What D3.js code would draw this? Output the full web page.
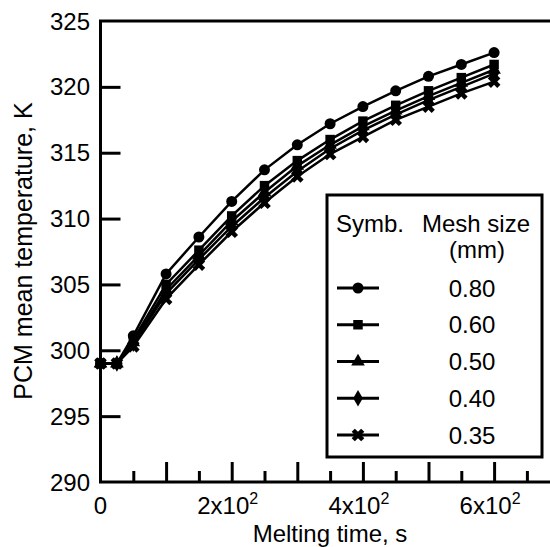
<!DOCTYPE html>
<html>
<head>
<meta charset="utf-8">
<script src="https://cdn.jsdelivr.net/npm/d3@7"></script>
<style>
  html, body { margin: 0; padding: 0; background: #fff; }
  svg { display: block; }
  text { font-family: "Liberation Sans", Arial, sans-serif; fill: #000; }
</style>
</head>
<body>
<div id="chart"></div>
<script>
// ---- data ----
const times = [0, 25, 50, 100, 150, 200, 250, 300, 350, 400, 450, 500, 550, 600];
const meshSizes = ["0.80", "0.60", "0.50", "0.40", "0.35"];
const t080 = [299, 299, 301.1, 305.8, 308.6, 311.3, 313.7, 315.6, 317.2, 318.5, 319.7, 320.8, 321.7, 322.6];
const t060 = [299, 299, 300.8, 305.0, 307.6, 310.2, 312.5, 314.4, 316.0, 317.4, 318.6, 319.7, 320.7, 321.7];
const t050 = [299, 299, 300.6, 304.6, 307.2, 309.8, 312.0, 314.0, 315.6, 317.0, 318.2, 319.3, 320.3, 321.3];
const t040 = [299, 299, 300.5, 304.3, 306.9, 309.4, 311.6, 313.6, 315.3, 316.7, 317.9, 319.0, 320.0, 321.0];
const t035 = [299, 299, 300.3, 303.9, 306.5, 309.0, 311.2, 313.2, 314.9, 316.2, 317.5, 318.5, 319.5, 320.4];
const yTicks = [295, 300, 305, 310, 315, 320];
const yLabels = [290, 295, 300, 305, 310, 315, 320, 325];
const xMajor = [100, 200, 300, 400, 500, 600];
const xMinor = [50, 150, 250, 350, 450, 550, 650];
const xLabelVals = [0, 200, 400, 600];

const series = [
  { name: meshSizes[0], values: t080, sym: d3.symbolCircle, size: 95, rot: 0 },
  { name: meshSizes[1], values: t060, sym: d3.symbolSquare, size: 90, rot: 0 },
  { name: meshSizes[2], values: t050, sym: d3.symbolTriangle, size: 80, rot: 0 },
  { name: meshSizes[3], values: t040, sym: d3.symbolDiamond, size: 80, rot: 0 },
  { name: meshSizes[4], values: t035, sym: d3.symbolCross, size: 100, rot: 45 }
];

const W = 550, H = 547;
const svg = d3.select("#chart").append("svg").attr("width", W).attr("height", H);

const x = d3.scaleLinear().domain([0, 700]).range([100.5, 559.7]);
const y = d3.scaleLinear().domain([290, 325]).range([482, 21]);

// frame
svg.append("rect")
  .attr("x", x(0)).attr("y", y(325))
  .attr("width", x(700) - x(0)).attr("height", y(290) - y(325))
  .attr("fill", "none").attr("stroke", "#000").attr("stroke-width", 3);

// x ticks (inward)
const gx = svg.append("g").attr("transform", `translate(0,${y(290)})`);
gx.call(d3.axisBottom(x).tickValues(xMajor).tickSize(-20).tickFormat(""));
const gxm = svg.append("g").attr("transform", `translate(0,${y(290)})`);
gxm.call(d3.axisBottom(x).tickValues(xMinor).tickSize(-11).tickFormat(""));
[gx, gxm].forEach(g => {
  g.select(".domain").remove();
  g.selectAll("line").attr("stroke", "#000").attr("stroke-width", 3);
});

// y ticks (inward)
const gy = svg.append("g").attr("transform", `translate(${x(0)},0)`);
gy.call(d3.axisLeft(y).tickValues(yTicks).tickSize(-20).tickFormat(""));
gy.select(".domain").remove();
gy.selectAll("line").attr("stroke", "#000").attr("stroke-width", 3);

// y labels
svg.append("g").selectAll("text").data(yLabels).join("text")
  .attr("x", 90).attr("y", d => y(d))
  .attr("dy", "0.36em")
  .attr("text-anchor", "end")
  .style("font-size", "24px")
  .text(d => d);

// x labels
const xl = svg.append("g").selectAll("text").data(xLabelVals).join("text")
  .attr("x", d => x(d) - (d === 0 ? 0 : 4)).attr("y", 514)
  .attr("text-anchor", "middle")
  .style("font-size", "24px");
xl.each(function(d) {
  const t = d3.select(this);
  if (d === 0) { t.text("0"); return; }
  t.append("tspan").text((d / 100) + "x10");
  t.append("tspan").attr("dy", -10).style("font-size", "16px").text("2");
});

// axis titles
svg.append("text")
  .attr("x", 330).attr("y", 541.5)
  .attr("text-anchor", "middle")
  .style("font-size", "24px")
  .text("Melting time, s");
svg.append("text")
  .attr("transform", "translate(32,251) rotate(-90)")
  .attr("text-anchor", "middle")
  .style("font-size", "25px")
  .text("PCM mean temperature, K");

// lines
const line = d3.line().x((d, i) => x(times[i])).y(d => y(d));
const plot = svg.append("g");
series.slice().reverse().forEach(s => {
  plot.append("path").datum(s.values)
    .attr("d", line)
    .attr("fill", "none").attr("stroke", "#000").attr("stroke-width", 2.5);
  plot.append("g").selectAll("path").data(s.values).join("path")
    .attr("d", d3.symbol().type(s.sym).size(s.size))
    .attr("transform", (d, i) => `translate(${x(times[i])},${y(d)}) rotate(${s.rot})`)
    .attr("fill", "#000");
});

// legend
const lg = svg.append("g");
lg.append("rect").attr("x", 327).attr("y", 195).attr("width", 215).attr("height", 262)
  .attr("fill", "#fff").attr("stroke", "#000").attr("stroke-width", 3);
lg.append("text").attr("x", 336).attr("y", 232).style("font-size", "24px").text("Symb.");
lg.append("text").attr("x", 422).attr("y", 232).style("font-size", "24px").text("Mesh size");
lg.append("text").attr("x", 477).attr("y", 258).attr("text-anchor", "middle").style("font-size", "24px").text("(mm)");
series.forEach((s, i) => {
  const cy = 288 + i * 36.75;
  lg.append("line").attr("x1", 337).attr("x2", 379).attr("y1", cy).attr("y2", cy)
    .attr("stroke", "#000").attr("stroke-width", 3);
  lg.append("path")
    .attr("d", d3.symbol().type(s.sym).size(s.size))
    .attr("transform", `translate(358,${cy}) rotate(${s.rot})`)
    .attr("fill", "#000");
  lg.append("text").attr("x", 472).attr("y", cy).attr("dy", "0.36em")
    .attr("text-anchor", "middle").style("font-size", "24px").text(s.name);
});
</script>
</body>
</html>
